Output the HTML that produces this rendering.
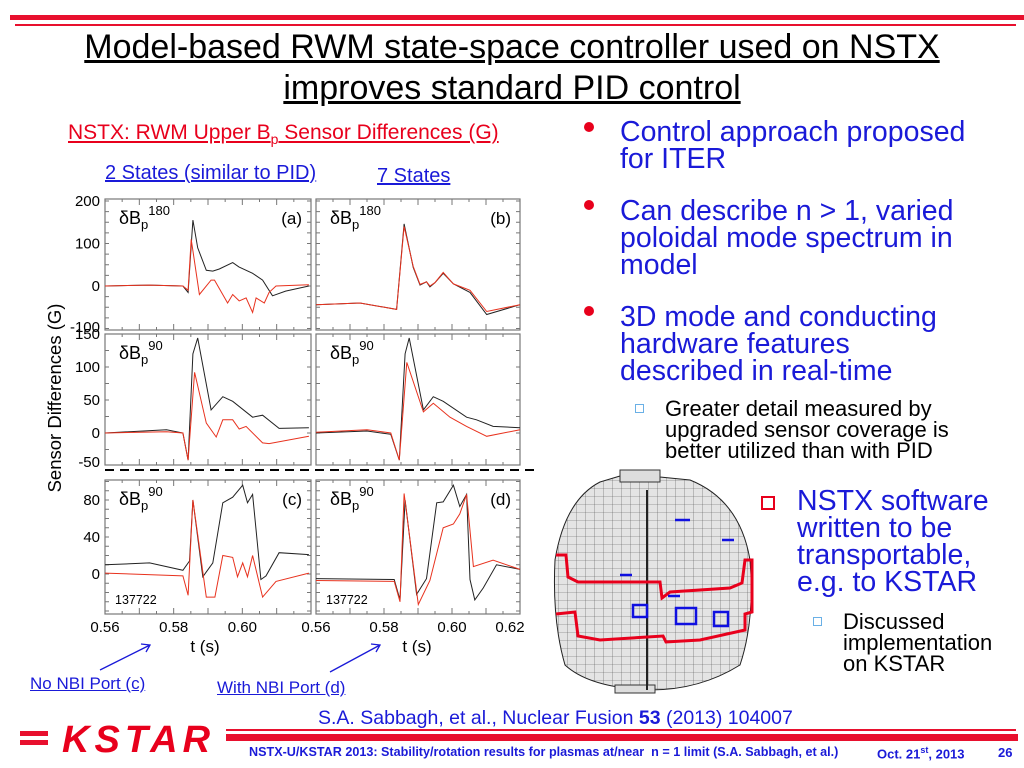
<!DOCTYPE html>
<html><head><meta charset="utf-8">
<style>
body{margin:0;width:1024px;height:768px;overflow:hidden;background:#fff;font-family:"Liberation Sans",Arial,sans-serif;position:relative}
.a{position:absolute;white-space:nowrap}
.blue{color:#1a1ad8}
.bt{font-size:28.5px;line-height:27px;color:#1a1ad8}
.st{font-size:22px;line-height:21px;color:#000}
.dot{position:absolute;width:10px;height:10px;border-radius:50%;background:#e8001c}
.sq{position:absolute;width:7px;height:7px;border:1.5px solid #6ab0e6}
</style></head><body>
<div class="a" style="left:10px;top:15px;width:1014px;height:5px;background:#e8102e"></div>
<div class="a" style="left:15px;top:24px;width:1001px;height:2px;background:#e8102e"></div>
<div class="a" style="left:0;top:27px;width:1024px;text-align:center;font-size:34px;line-height:41px;text-decoration:underline;">Model-based RWM state-space controller used on NSTX<br>improves standard PID control</div>

<div class="a" style="left:68px;top:121px;font-size:21px;color:#e8001c;text-decoration:underline">NSTX: RWM Upper B<sub style="font-size:14px">p</sub> Sensor Differences (G)</div>
<div class="a blue" style="left:105px;top:162px;font-size:20px;text-decoration:underline">2 States (similar to PID)</div>
<div class="a blue" style="left:377px;top:165px;font-size:20px;text-decoration:underline">7 States</div>

<svg class="a" style="left:0;top:0" width="1024" height="768" id="chart">
<g id="panels"></g>
<line x1="105" y1="470" x2="535" y2="470" stroke="#000" stroke-width="2" stroke-dasharray="9,6"/>
<text x="61" y="398" transform="rotate(-90 61 398)" text-anchor="middle" font-size="18.5" font-family="Liberation Sans">Sensor Differences (G)</text>
<text x="205" y="652" text-anchor="middle" font-size="17" font-family="Liberation Sans">t (s)</text>
<text x="417" y="652" text-anchor="middle" font-size="17" font-family="Liberation Sans">t (s)</text>
<g stroke="#1a1ad8" stroke-width="1.3" fill="none">
<line x1="100" y1="670" x2="150" y2="645"/>
<polyline points="141,644 150,645 146,652"/>
<line x1="330" y1="672" x2="380" y2="645"/>
<polyline points="371,644 380,645 376,652"/>
</g>
<g>
<defs><pattern id="grid" width="9" height="8" patternUnits="userSpaceOnUse"><rect width="9" height="8" fill="#e4e4e4"/><path d="M0 0H9M0 0V8" stroke="#555" stroke-width="0.6"/></pattern></defs>
<path d="M600 482 L620 476 L630 472 L650 472 L660 477 L690 480 Q740 500 750 560 Q755 620 740 665 Q700 690 650 690 Q590 688 565 665 Q552 620 555 560 Q565 500 600 482 Z" fill="url(#grid)" stroke="#222" stroke-width="1"/>
<rect x="620" y="470" width="40" height="12" fill="#ddd" stroke="#333"/>
<rect x="615" y="685" width="40" height="8" fill="#ddd" stroke="#333"/>
<line x1="647" y1="490" x2="647" y2="690" stroke="#222" stroke-width="2"/>
<path d="M556 555 L566 555 L568 577 L578 582 L660 582 L662 598 L670 592 L730 588 L742 583 L745 560 L752 560 L752 612 L745 614 L745 630 L700 640 L666 642 L663 636 L600 640 L578 636 L575 612 L556 614" fill="none" stroke="#e8001c" stroke-width="3"/>
<g fill="none" stroke="#1010e0" stroke-width="2.5"><rect x="633" y="605" width="14" height="12"/><rect x="676" y="608" width="20" height="16"/><rect x="714" y="612" width="14" height="14"/><path d="M675 520h15M722 540h12M620 575h12M668 596h12"/></g>
</g>
</svg>

<div class="a" style="left:30px;top:674px;font-size:17px;color:#1a1ad8;text-decoration:underline">No NBI Port (c)</div>
<div class="a" style="left:217px;top:678px;font-size:17px;color:#1a1ad8;text-decoration:underline">With NBI Port (d)</div>

<div class="dot" style="left:584px;top:122px"></div>
<div class="a bt" style="left:620px;top:119px">Control approach proposed<br>for ITER</div>
<div class="dot" style="left:584px;top:200px"></div>
<div class="a bt" style="left:620px;top:198px">Can describe n &gt; 1, varied<br>poloidal mode spectrum in<br>model</div>
<div class="dot" style="left:584px;top:306px"></div>
<div class="a bt" style="left:620px;top:304px">3D mode and conducting<br>hardware features<br>described in real-time</div>
<div class="sq" style="left:635px;top:404px"></div>
<div class="a st" style="left:665px;top:398px">Greater detail measured by<br>upgraded sensor coverage is<br>better utilized than with PID</div>
<div class="a" style="left:761px;top:496px;width:10px;height:10px;border:2px solid #e8001c"></div>
<div class="a bt" style="left:797px;top:488px">NSTX software<br>written to be<br>transportable,<br>e.g. to KSTAR</div>
<div class="sq" style="left:813px;top:617px"></div>
<div class="a st" style="left:843px;top:611px">Discussed<br>implementation<br>on KSTAR</div>

<div class="a" style="left:318px;top:707px;font-size:19.5px;color:#1a1ad8">S.A. Sabbagh, et al., Nuclear Fusion <b>53</b> (2013) 104007</div>
<div class="a" style="left:20px;top:731px;width:28px;height:5px;background:#e8102e"></div>
<div class="a" style="left:20px;top:740px;width:28px;height:5px;background:#e8102e"></div>
<div class="a" style="left:62px;top:719px;font-size:38px;font-weight:bold;font-style:italic;color:#e8001c;letter-spacing:5px">KSTAR</div>
<div class="a" style="left:226px;top:729px;width:790px;height:2px;background:#e8102e"></div>
<div class="a" style="left:226px;top:734px;width:792px;height:7px;background:#e8102e"></div>
<div class="a" style="left:249px;top:745px;font-size:12.6px;font-weight:bold;color:#1a1ad8">NSTX-U/KSTAR 2013: Stability/rotation results for plasmas at/near&nbsp; n = 1 limit (S.A. Sabbagh, et al.)</div>
<div class="a" style="left:877px;top:745px;font-size:13px;font-weight:bold;color:#1a1ad8">Oct. 21<sup style="font-size:9px">st</sup>, 2013</div>
<div class="a" style="left:998px;top:745px;font-size:13px;font-weight:bold;color:#1a1ad8">26</div>

<script>
// time in ms, values in Gauss
const aRow1BlackT=[560,573,582.7,584.2,585.6,587,589.5,591.4,593.3,597.2,599,603,605.9,608.8,612.6,619.4];
const aRow1BlackV=[0,2,0,-15,155,90,37,35,40,55,45,30,14,-23,-12,0];
const aRow1RedT=[560,573,582.7,584.2,585.1,587.5,590.9,591.9,595.7,597.2,599.1,601.1,603,604,606.4,607.8,609.8,619.4];
const aRow1RedV=[0,2,0,-10,110,-20,14,14,-40,-20,-35,-28,-62,-28,-40,-15,0,3];
const bRow1BlackT=[560,572.9,583.7,585.9,588.6,590.6,592.5,593.5,595,597.4,600.4,605.3,610.2,620];
const bRow1BlackV=[-44,-40,-55,146,44,2,10,-2,8,30,5,-15,-67,-44];
const bRow1RedT=[560,572.9,583.7,585.9,588.6,590.6,592.5,593.5,595,597.4,600.4,605.3,610.2,620];
const bRow1RedV=[-44,-40,-55,140,46,4,10,0,8,32,5,-10,-60,-44];
const aRow2BlackT=[560,577.9,582.7,584.2,585.6,587,590.9,594.3,597.2,603,605.9,610.7,619.4];
const aRow2BlackV=[0,5,0,-41,120,144,35,55,48,24,27,7,8];
const aRow2RedT=[560,577.9,582.7,584.2,586.1,589.5,592.4,594.3,597.2,599.1,601.1,605.9,607.8,619.4];
const aRow2RedV=[0,2,0,-41,92,15,-6,20,20,6,10,-15,-16,-5];
const bRow2BlackT=[560,575,582,584.5,586.2,587.4,591.6,594.5,597.4,604.3,607.2,612.1,620];
const bRow2BlackV=[0,3,-2,-41,120,144,35,55,48,24,20,10,8];
const bRow2RedT=[560,575,582,584.5,586.7,591.6,594.5,599.4,604.3,610.2,620];
const bRow2RedV=[1,5,0,-41,107,32,45,24,10,-5,5];
const cBlackT=[560,573,582.7,584.6,585.6,588.5,591.4,594.3,597.2,600.1,601.5,603,605.4,606.9,610.7,619.4];
const cBlackV=[10,12,4,14,80,-3,12,77,83,96,77,86,-6,-2,23,21];
const cRedT=[560,582.7,584.2,585.6,589.5,592,594.3,597.2,598.6,600.1,601.5,603,605.9,609.8,619.4];
const cRedV=[1,-2,-23,80,-25,-25,20,18,-3,12,-3,20,-25,-8,1];
const dBlackT=[560,583,584.7,586.2,589.6,592.5,595.5,597.4,600.4,602.3,604.3,605.3,606.7,609.2,613.1,620];
const dBlackV=[-5,-6,-28,80,-22,-5,77,78,96,73,86,-6,-28,-15,10,5];
const dRedT=[560,583,584.7,585.9,590.1,593.5,597.4,600.4,602.3,604.3,606.3,612.1,620];
const dRedV=[-7,-8,-30,87,-33,-7,50,54,65,86,8,15,5];
const row1Ticks=[200,100,0,-100];
const row2Ticks=[150,100,50,0,-50];
const row3Ticks=[80,40,0];
const xTicksLeft=["0.56","0.58","0.60"];
const xTicksLeftVal=[560,580,600];
const xTicksRight=["0.56","0.58","0.60","0.62"];
const xTicksRightVal=[560,580,600,620];

const NS='http://www.w3.org/2000/svg';
const G=document.getElementById('panels');
function mk(tag,attrs){const e=document.createElementNS(NS,tag);for(const k in attrs)e.setAttribute(k,attrs[k]);G.appendChild(e);return e;}
const cols=[{x0:105,x1:311},{x0:316,x1:520}];
const rows=[{top:199,bot:330,y0:286,k:0.425,ticks:row1Ticks},{top:334,bot:465,y0:433,k:0.66,ticks:row2Ticks},{top:480,bot:614,y0:574,k:0.925,ticks:row3Ticks}];
function xs(c,t){return c.x0+(t-560)/60*(c.x1-c.x0);}
function ys(r,v){return r.y0-v*r.k;}
const series=[
 [0,0,aRow1BlackT,aRow1BlackV,aRow1RedT,aRow1RedV],
 [1,0,bRow1BlackT,bRow1BlackV,bRow1RedT,bRow1RedV],
 [0,1,aRow2BlackT,aRow2BlackV,aRow2RedT,aRow2RedV],
 [1,1,bRow2BlackT,bRow2BlackV,bRow2RedT,bRow2RedV],
 [0,2,cBlackT,cBlackV,cRedT,cRedV],
 [1,2,dBlackT,dBlackV,dRedT,dRedV]];
const labels=[["180","(a)"],["180","(b)"],["90",""],["90",""],["90","(c)"],["90","(d)"]];
series.forEach((s,i)=>{
 const c=cols[s[0]],r=rows[s[1]];
 const f=mk('rect',{x:c.x0,y:r.top,width:c.x1-c.x0,height:r.bot-r.top,fill:'none',stroke:'#777','stroke-width':1.2});
 
 
 for(let t=560;t<=620;t+=5){const x=xs(c,t);const L=(t%10===0)?6:3;
  const tk=mk('path',{d:`M${x} ${r.bot}v-${L}M${x} ${r.top}v${L}`,stroke:'#777','stroke-width':1});
  
  }
 for(let v=-200;v<=200;v+=(s[1]===2?10:25)){const y=ys(r,v);if(y<r.top||y>r.bot)continue;
  const tk=mk('path',{d:`M${c.x0} ${y}h4M${c.x1} ${y}h-4`,stroke:'#777','stroke-width':1});
  
  }
 const pts=(T,V)=>T.map((t,j)=>xs(c,t).toFixed(1)+','+ys(r,V[j]).toFixed(1)).join(' ');
 const b=mk('polyline',{points:pts(s[2],s[3]),fill:'none',stroke:'#222','stroke-width':1});
 
 
 const rd=mk('polyline',{points:pts(s[4],s[5]),fill:'none',stroke:'#e8321e','stroke-width':1});
 
 
 const lb=mk('text',{x:c.x0+14,y:r.top+25,'font-size':18,'font-family':'Liberation Sans'});
 lb.innerHTML='δB<tspan font-size="13" dy="5">p</tspan><tspan font-size="13" dy="-14">'+labels[i][0]+'</tspan>';
 
 
 if(labels[i][1]){const pl=mk('text',{x:c.x1-9,y:r.top+25,'text-anchor':'end','font-size':17,'font-family':'Liberation Sans'});pl.textContent=labels[i][1];
  
  }
 if(s[1]===2){const sh=mk('text',{x:c.x0+10,y:r.bot-10,'font-size':12.5,'font-family':'Liberation Sans'});sh.textContent='137722';
  
  }
});
rows.forEach(r=>{r.ticks.forEach(v=>{let y=ys(r,v);if(y<r.top)y=r.top+7;if(y>r.bot-3)y=r.bot-3;
 const t=mk('text',{x:100,y:y+5,'text-anchor':'end','font-size':15,'font-family':'Liberation Sans'});t.textContent=v;
 
 });});
xTicksLeft.forEach((s,i)=>{const t=mk('text',{x:xs(cols[0],xTicksLeftVal[i]),y:632,'text-anchor':'middle','font-size':15,'font-family':'Liberation Sans'});t.textContent=s;
 
 });
xTicksRight.forEach((s,i)=>{let x=xs(cols[1],xTicksRightVal[i]);if(i===3)x-=10;const t=mk('text',{x:x,y:632,'text-anchor':'middle','font-size':15,'font-family':'Liberation Sans'});t.textContent=s;
 
 });
</script>
</body></html>
